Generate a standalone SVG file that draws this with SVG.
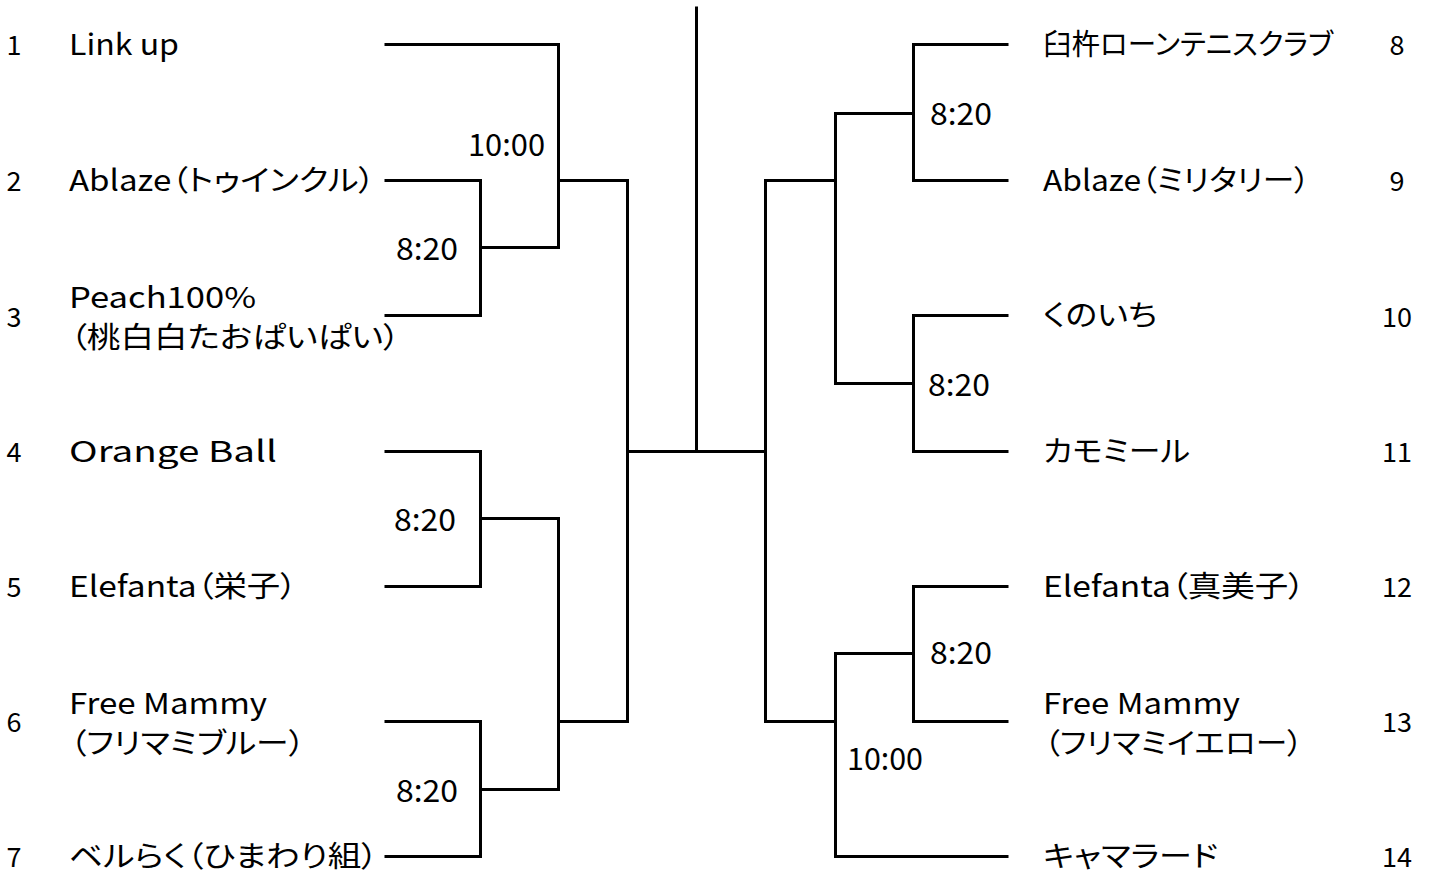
<svg xmlns="http://www.w3.org/2000/svg" width="1433" height="877" viewBox="0 0 1433 877">
<style>
text{font-family:"Noto Sans CJK JP","Liberation Sans",sans-serif;font-size:29px;fill:#000;font-feature-settings:"palt";}
.num{font-size:27px;text-anchor:middle;}
.time{font-size:31px;}
.ln{fill:none;stroke:#000;stroke-width:3;stroke-linejoin:miter;stroke-linecap:square;}
</style>
<rect width="1433" height="877" fill="#fff"/>
<g id="connectors">
<path class="ln" d="M386 44.5 H558.5 V247.5 H480.5"/>
<path class="ln" d="M386 180.5 H480.5 V315.5 H386"/>
<path class="ln" d="M558.5 180.5 H627.5 V721.5 H558.5"/>
<path class="ln" d="M386 451.5 H480.5 V586.5 H386"/>
<path class="ln" d="M480.5 518.5 H558.5 V789.5 H480.5"/>
<path class="ln" d="M386 721.5 H480.5 V856.5 H386"/>
<path class="ln" d="M627.5 451.5 H765.5"/>
<path class="ln" d="M696.5 8 V451.5"/>
<path class="ln" d="M1007 44.5 H913.5 V180.5 H1007"/>
<path class="ln" d="M913.5 113.5 H835.5 V383.5 H913.5"/>
<path class="ln" d="M1007 315.5 H913.5 V451.5 H1007"/>
<path class="ln" d="M835.5 180.5 H765.5 V721.5 H835.5"/>
<path class="ln" d="M1007 586.5 H913.5 V721.5 H1007"/>
<path class="ln" d="M913.5 653.5 H835.5 V856.5 H1007"/>
</g>
<g id="times">
<text class="time" x="468" y="156" textLength="77" lengthAdjust="spacingAndGlyphs">10:00</text>
<text class="time" x="396" y="260" textLength="62" lengthAdjust="spacingAndGlyphs">8:20</text>
<text class="time" x="394" y="531" textLength="62" lengthAdjust="spacingAndGlyphs">8:20</text>
<text class="time" x="396" y="802" textLength="62" lengthAdjust="spacingAndGlyphs">8:20</text>
<text class="time" x="930" y="125" textLength="62" lengthAdjust="spacingAndGlyphs">8:20</text>
<text class="time" x="928" y="396" textLength="62" lengthAdjust="spacingAndGlyphs">8:20</text>
<text class="time" x="930" y="664" textLength="62" lengthAdjust="spacingAndGlyphs">8:20</text>
<text class="time" x="847" y="770" textLength="76" lengthAdjust="spacingAndGlyphs">10:00</text>
</g>
<g id="team1"><text class="num" x="14" y="55">1</text><text x="69" y="55" textLength="110" lengthAdjust="spacingAndGlyphs">Link up</text></g>
<g id="team2"><text class="num" x="14" y="191">2</text><text x="69" y="191" textLength="306" lengthAdjust="spacingAndGlyphs">Ablaze（トゥインクル）</text></g>
<g id="team3"><text class="num" x="14" y="327">3</text><text x="69" y="308" textLength="187" lengthAdjust="spacingAndGlyphs">Peach100%</text><text x="70" y="348" textLength="330" lengthAdjust="spacingAndGlyphs">（桃白白たおぱいぱい）</text></g>
<g id="team4"><text class="num" x="14" y="462">4</text><text x="69" y="462" textLength="208" lengthAdjust="spacingAndGlyphs">Orange Ball</text></g>
<g id="team5"><text class="num" x="14" y="597">5</text><text x="69" y="597" textLength="228" lengthAdjust="spacingAndGlyphs">Elefanta（栄子）</text></g>
<g id="team6"><text class="num" x="14" y="732">6</text><text x="69" y="714" textLength="198" lengthAdjust="spacingAndGlyphs">Free Mammy</text><text x="70" y="754" textLength="235" lengthAdjust="spacingAndGlyphs">（フリマミブルー）</text></g>
<g id="team7"><text class="num" x="14" y="867">7</text><text x="69" y="867" textLength="309" lengthAdjust="spacingAndGlyphs">ベルらく（ひまわり組）</text></g>
<g id="team8"><text x="1043" y="55" textLength="290" lengthAdjust="spacingAndGlyphs">臼杵ローンテニスクラブ</text><text class="num" x="1397" y="55">8</text></g>
<g id="team9"><text x="1043" y="191" textLength="267" lengthAdjust="spacingAndGlyphs">Ablaze（ミリタリー）</text><text class="num" x="1397" y="191">9</text></g>
<g id="team10"><text x="1043" y="326" textLength="114" lengthAdjust="spacingAndGlyphs">くのいち</text><text class="num" x="1397" y="327">10</text></g>
<g id="team11"><text x="1043" y="462" textLength="147" lengthAdjust="spacingAndGlyphs">カモミール</text><text class="num" x="1397" y="462">11</text></g>
<g id="team12"><text x="1043" y="597" textLength="262" lengthAdjust="spacingAndGlyphs">Elefanta（真美子）</text><text class="num" x="1397" y="597">12</text></g>
<g id="team13"><text x="1043" y="714" textLength="197" lengthAdjust="spacingAndGlyphs">Free Mammy</text><text x="1044" y="754" textLength="259" lengthAdjust="spacingAndGlyphs">（フリマミイエロー）</text><text class="num" x="1397" y="732">13</text></g>
<g id="team14"><text x="1043" y="867" textLength="175" lengthAdjust="spacingAndGlyphs">キャマラード</text><text class="num" x="1397" y="867">14</text></g>
</svg>
